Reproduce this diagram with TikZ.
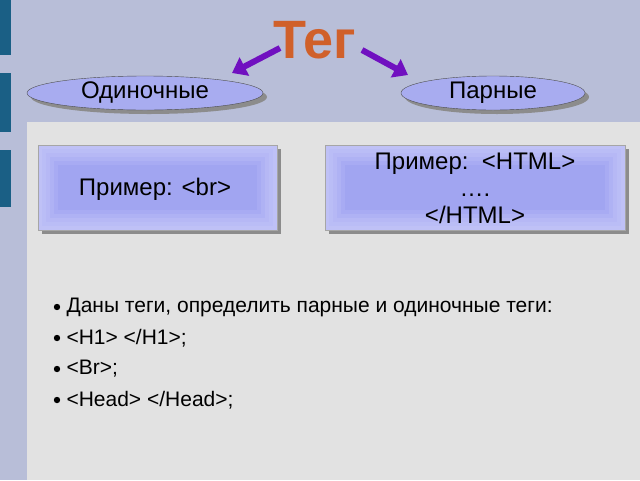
\documentclass[tikz,border=0pt]{standalone}
\usepackage{fontspec}
\setmainfont{Liberation Sans}
\usetikzlibrary{arrows.meta,shapes.geometric}
\definecolor{bgb}{HTML}{B8BED8}
\definecolor{panel}{HTML}{E2E2E2}
\definecolor{barb}{HTML}{1A5F85}
\definecolor{ell}{HTML}{A8ACF0}
\definecolor{boxo}{HTML}{C8CAF8}
\definecolor{boxi}{HTML}{9A9EF0}
\definecolor{purp}{HTML}{7010C0}
\definecolor{tegc}{HTML}{D0602A}
\begin{document}
\begin{tikzpicture}[x=1pt,y=-1pt,
  ellnode/.style={draw=black!70,ellipse,fill=ell,font=\fontsize{24}{28}\selectfont,inner sep=0},
  bul/.style={anchor=west,font=\fontsize{21}{24}\selectfont}]
\useasboundingbox (0,0) rectangle (640,480);
\fill[bgb] (0,0) rectangle (640,480);
\fill[panel] (27,122) rectangle (640,480);
\foreach \a/\b in {0/55,73/132,150/207}{\fill[barb] (0,\a) rectangle (11,\b);}
% ellipses
\fill[black!45] (149,97) ellipse (118 and 17);
\fill[black!45] (497,97) ellipse (92 and 17);
\node[ellnode,minimum width=236,minimum height=34] (one) at (145,93) {Одиночные};
\node[ellnode,minimum width=184,minimum height=34] (pair) at (493,93) {Парные};
\node[font=\fontsize{54}{56}\selectfont\bfseries,text=tegc] (teg) at (315,40) {Тег};
\draw[purp,line width=6pt,-{Triangle[length=14pt,width=20pt]}] (280,48) coordinate (t1) -- (232,73) coordinate (e1);
\draw[purp,line width=6pt,-{Triangle[length=14pt,width=20pt]}] (362,50) coordinate (t2) -- (408,75) coordinate (e2);
% boxes
\foreach \x/\y/\X/\Y in {38/145/277/230,325/145/625/230}{
  \fill[black!45] (\x+4,\y+4) rectangle (\X+4,\Y+4);
  \foreach \i/\c in {0/20,4/30,8/40,12/55,16/70,20/85}{
    \fill[boxi!\c!boxo] (\x+\i,\y+\i) rectangle (\X-\i,\Y-\i);}
  \draw[black!35] (\x,\y) rectangle (\X,\Y);
}
\node[font=\fontsize{24}{28}\selectfont] (b1) at (155,189) {Пример: <br>};
\node[font=\fontsize{24}{28}\selectfont,align=center] (b2) at (475,188) {Пример:\ \ <HTML>\\[-1pt]….\\[-1pt]</HTML>};
% bullets
\foreach \y/\t in {307/{Даны теги, определить парные и одиночные теги:},338/{<H1> </H1>;},369/{<Br>;},400/{<Head> </Head>;}}{
  \fill (57,\y) circle (3.2);
  \node[bul] at (63,\y) {\t};
}
\end{tikzpicture}
\end{document}
